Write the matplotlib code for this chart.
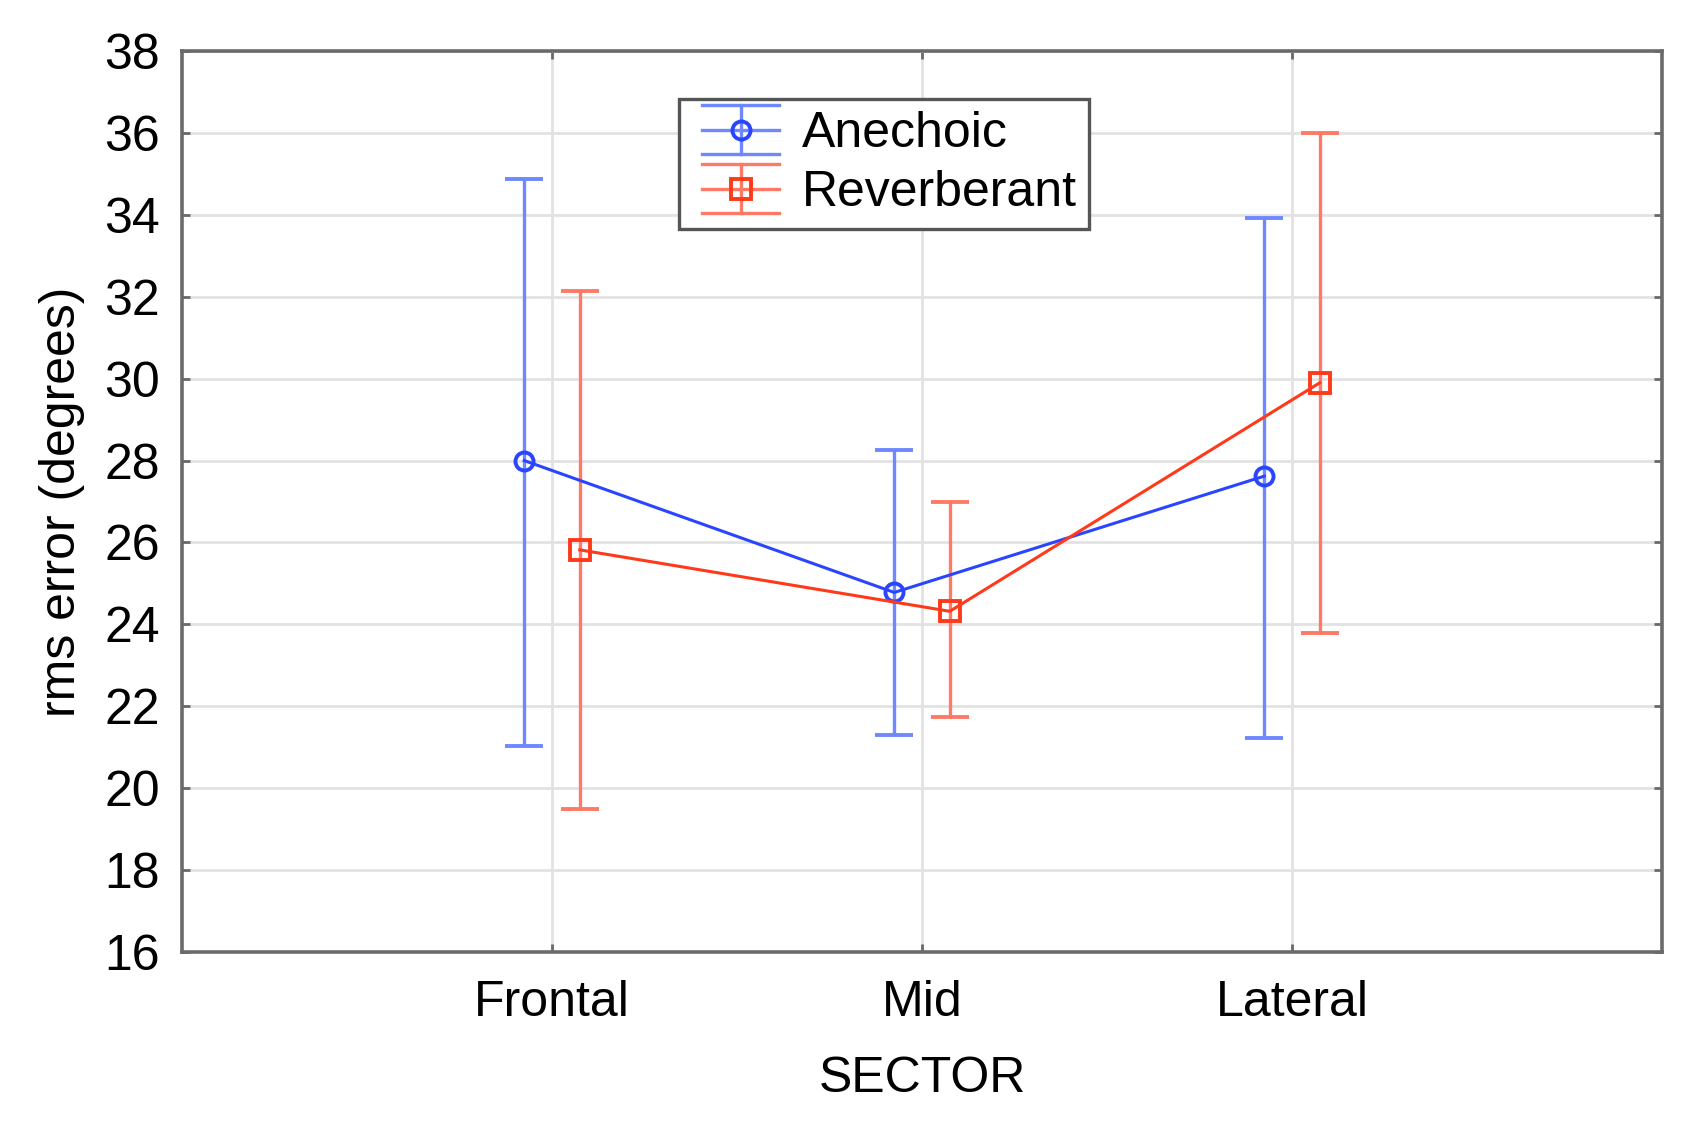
import matplotlib
matplotlib.use('Agg')
from matplotlib import pyplot as plt
from matplotlib.legend_handler import HandlerBase
from matplotlib.lines import Line2D
import numpy as np

# data
sectors = ['Frontal', 'Mid', 'Lateral']
anechoic_mean = [28.0, 24.78, 27.62]
anechoic_low = [21.02, 21.29, 21.22]
anechoic_high = [34.88, 28.27, 33.92]
reverb_mean = [25.82, 24.32, 29.9]
reverb_low = [19.5, 21.74, 23.78]
reverb_high = [32.15, 26.98, 36.0]

plt.rcParams['font.family'] = ['Liberation Sans', 'DejaVu Sans']


# legend key like the original: wide caps above and below the line
class ErrHandler(HandlerBase):
    def create_artists(self, legend, orig_handle, xdescent, ydescent,
                       width, height, fontsize, trans):
        line = orig_handle.lines[0]
        ecol = orig_handle.lines[2][0].get_color()
        x0 = -xdescent + 0.2 * fontsize
        x1 = -xdescent + width
        xc = (x0 + x1) / 2
        yc = height / 2 - ydescent
        h = 0.7 * height
        arts = [
            Line2D([x0, x1], [yc + h, yc + h], color=ecol, lw=2.4),
            Line2D([x0, x1], [yc - h, yc - h], color=ecol, lw=2.4),
            Line2D([xc, xc], [yc - h, yc + h], color=ecol, lw=2.4),
            Line2D([x0, x1], [yc, yc], color=ecol, lw=2.4),
            Line2D([xc], [yc], marker=line.get_marker(), ms=line.get_markersize(),
                   mfc='none', mec=line.get_markeredgecolor(), mew=2.8, ls='none'),
        ]
        for a in arts:
            a.set_transform(trans)
        return arts


fig = plt.figure(figsize=(16.93, 11.22), dpi=100)
ax = fig.add_axes([0.1075, 0.1515, 0.8742, 0.803])

x = np.arange(len(sectors))
off = 0.075

a_mean = np.array(anechoic_mean)
a_err = [a_mean - np.array(anechoic_low), np.array(anechoic_high) - a_mean]
r_mean = np.array(reverb_mean)
r_err = [r_mean - np.array(reverb_low), np.array(reverb_high) - r_mean]

ha = ax.errorbar(x - off, a_mean, yerr=a_err, color='#2a45ff', ecolor='#7088ff',
                 elinewidth=2.4, capsize=14, capthick=2.4, lw=2.2,
                 marker='o', ms=13, mfc='none', mec='#2a45ff', mew=2.8,
                 label='Anechoic', zorder=3)
hr = ax.errorbar(x + off, r_mean, yerr=r_err, color='#ff3a1a', ecolor='#ff7a66',
                 elinewidth=2.4, capsize=14, capthick=2.4, lw=2.2,
                 marker='s', ms=14, mfc='none', mec='#ff3a1a', mew=2.8,
                 label='Reverberant', zorder=3)

ax.set_xlim(-1, 3)
ax.set_ylim(16, 38)
ax.set_yticks(np.arange(16, 39, 2))
ax.set_xticks(x)
ax.set_xticklabels(sectors)

ax.grid(True, color='#e2e2e2', lw=2)
ax.set_axisbelow(True)
for s in ax.spines.values():
    s.set_color('#6a6a6a')
    s.set_linewidth(2.6)

ax.tick_params(axis='y', direction='in', length=6, width=2, color='#6a6a6a',
               labelsize=36, pad=16, right=True)
ax.tick_params(axis='x', direction='in', length=6, width=2, color='#6a6a6a',
               labelsize=36, pad=20, top=True)

ax.set_xlabel('SECTOR', fontsize=36, labelpad=22)
ax.set_ylabel('rms error (degrees)', fontsize=36, labelpad=14)

leg = ax.legend([ha, hr], ['Anechoic', 'Reverberant'],
                handler_map={ha: ErrHandler(), hr: ErrHandler()},
                loc='upper left', bbox_to_anchor=(0.336, 0.947), fontsize=36,
                fancybox=False, framealpha=1, edgecolor='#555555',
                handlelength=1.75, handletextpad=0.45, borderpad=0.25,
                labelspacing=0.26, borderaxespad=0)
leg.get_frame().set_linewidth(2.4)

fig.savefig('out.png', dpi=100)
